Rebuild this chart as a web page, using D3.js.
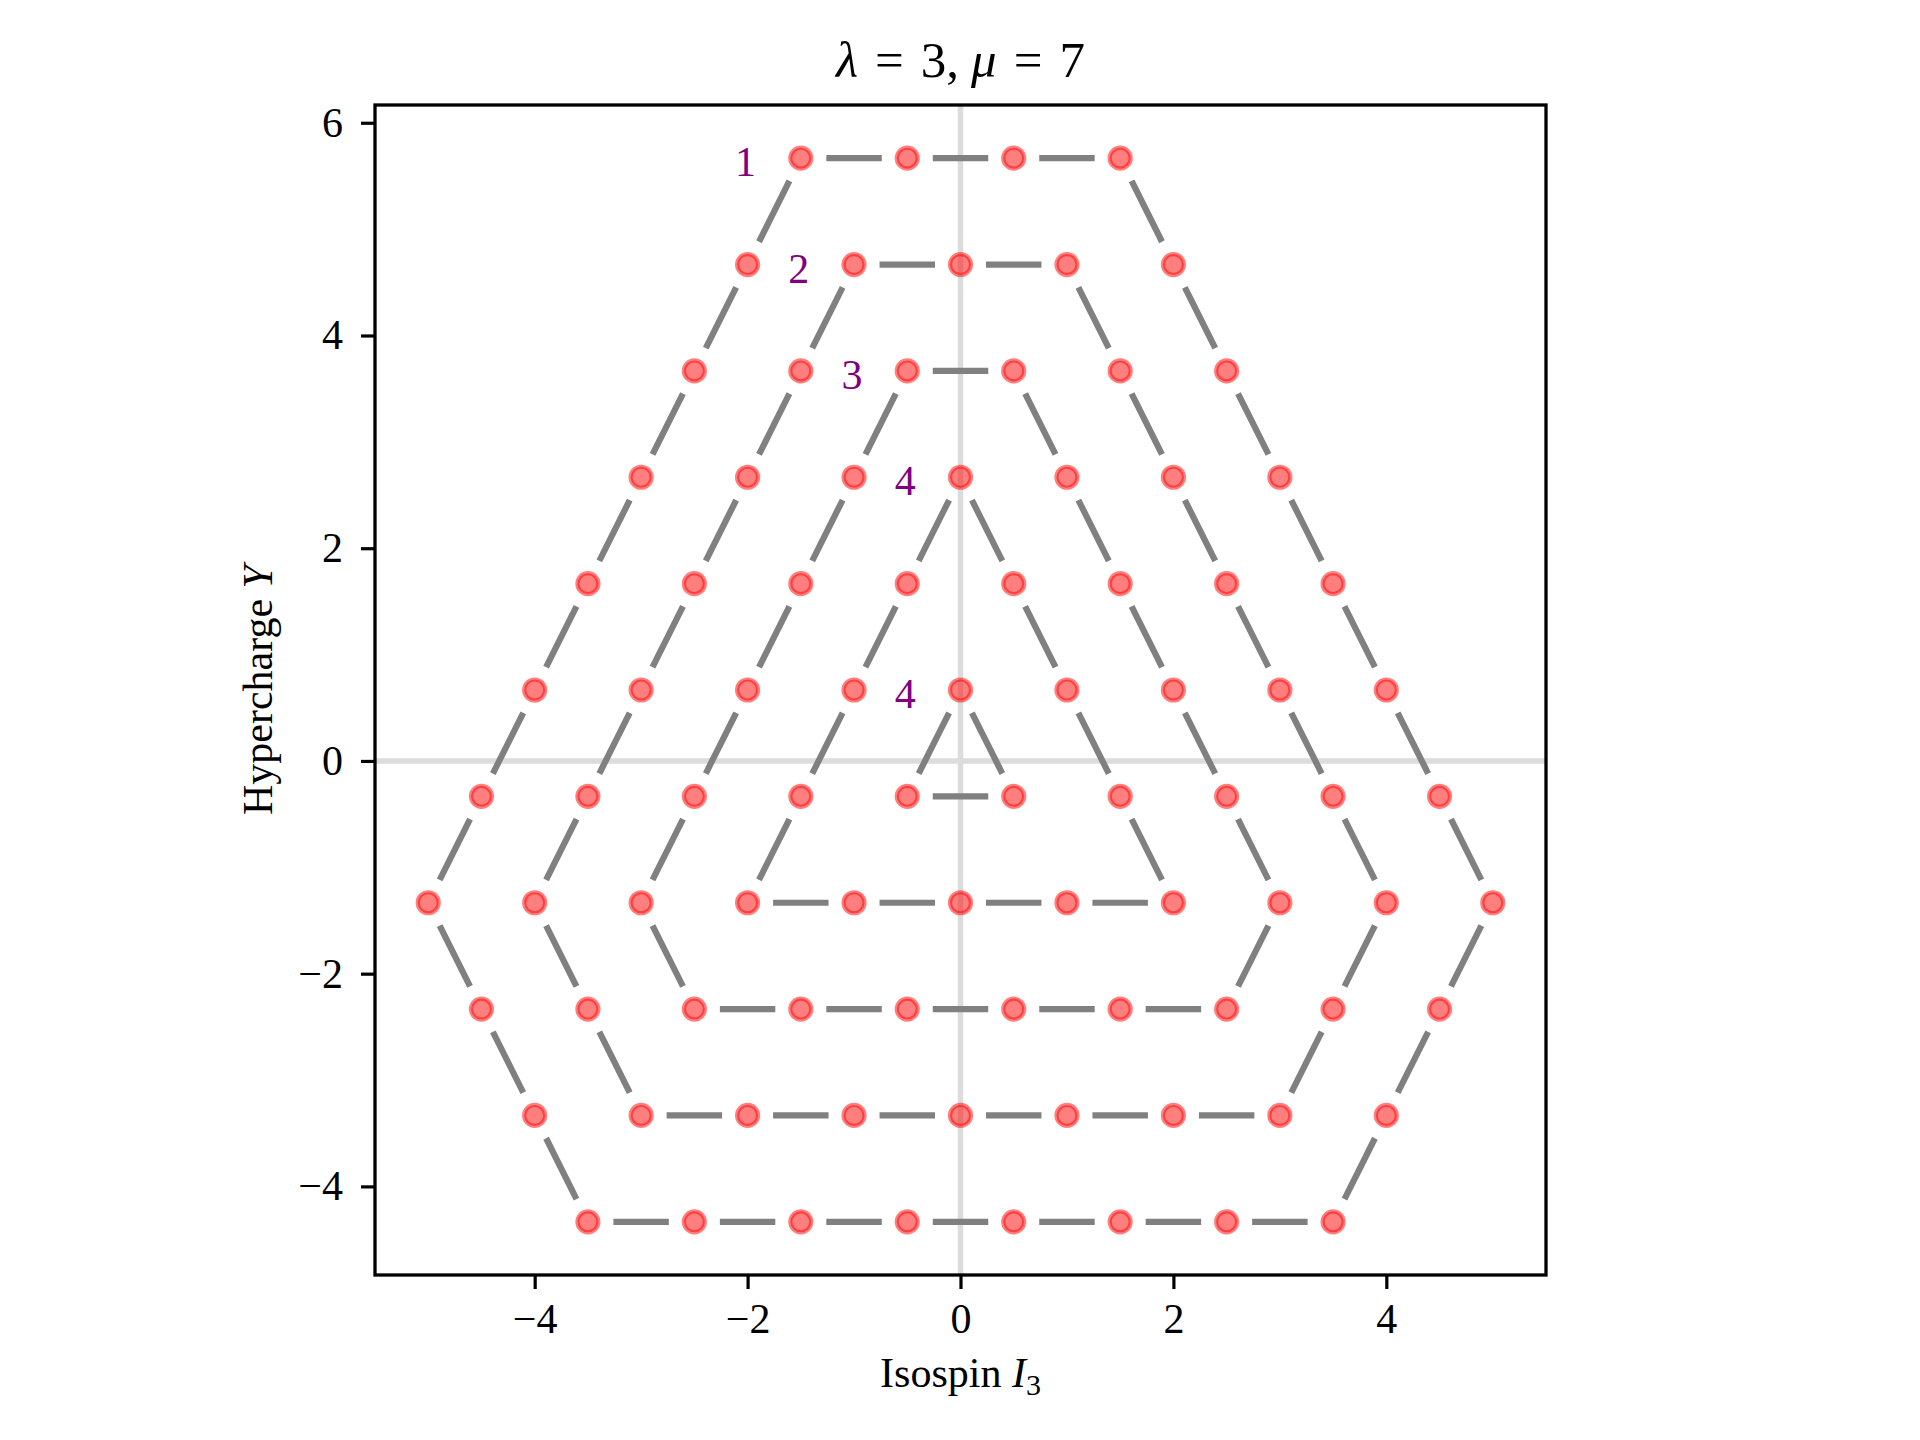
<!DOCTYPE html>
<html>
<head>
<meta charset="utf-8">
<script src="https://cdn.jsdelivr.net/npm/d3@7"></script>
<style>
  html, body { margin: 0; padding: 0; background: #ffffff; }
  svg { display: block; }
  text { font-family: "Liberation Serif", "Times New Roman", serif; }
</style>
</head>
<body>
<svg id="chart" width="1920" height="1440"></svg>
<script>
// ---- data: weights (I3, Y) of each shell, listed in order around the shell ----
const shell1 = [
  [-1.5, 5.667], [-0.5, 5.667], [0.5, 5.667], [1.5, 5.667],
  [2, 4.667], [2.5, 3.667], [3, 2.667], [3.5, 1.667], [4, 0.667], [4.5, -0.333], [5, -1.333],
  [4.5, -2.333], [4, -3.333], [3.5, -4.333],
  [2.5, -4.333], [1.5, -4.333], [0.5, -4.333], [-0.5, -4.333], [-1.5, -4.333], [-2.5, -4.333], [-3.5, -4.333],
  [-4, -3.333], [-4.5, -2.333], [-5, -1.333],
  [-4.5, -0.333], [-4, 0.667], [-3.5, 1.667], [-3, 2.667], [-2.5, 3.667], [-2, 4.667]
];
const shell2 = [
  [-1, 4.667], [0, 4.667], [1, 4.667],
  [1.5, 3.667], [2, 2.667], [2.5, 1.667], [3, 0.667], [3.5, -0.333], [4, -1.333],
  [3.5, -2.333], [3, -3.333],
  [2, -3.333], [1, -3.333], [0, -3.333], [-1, -3.333], [-2, -3.333], [-3, -3.333],
  [-3.5, -2.333], [-4, -1.333],
  [-3.5, -0.333], [-3, 0.667], [-2.5, 1.667], [-2, 2.667], [-1.5, 3.667]
];
const shell3 = [
  [-0.5, 3.667], [0.5, 3.667],
  [1, 2.667], [1.5, 1.667], [2, 0.667], [2.5, -0.333], [3, -1.333],
  [2.5, -2.333],
  [1.5, -2.333], [0.5, -2.333], [-0.5, -2.333], [-1.5, -2.333], [-2.5, -2.333],
  [-3, -1.333],
  [-2.5, -0.333], [-2, 0.667], [-1.5, 1.667], [-1, 2.667]
];
const shell4 = [
  [0, 2.667],
  [0.5, 1.667], [1, 0.667], [1.5, -0.333], [2, -1.333],
  [1, -1.333], [0, -1.333], [-1, -1.333], [-2, -1.333],
  [-1.5, -0.333], [-1, 0.667], [-0.5, 1.667]
];
const shell5 = [
  [0, 0.667], [0.5, -0.333], [-0.5, -0.333]
];
const shells = [shell1, shell2, shell3, shell4, shell5];
const multiplicities = ["1", "2", "3", "4", "4"];
const xTicks = [-4, -2, 0, 2, 4];
const yTicks = [-4, -2, 0, 2, 4, 6];
const xDomain = [-5.5, 5.5];
const yDomain = [-4.833, 6.167];

// ---- layout ----
const L = 375, R = 1546, T = 105, B = 1275;
const svg = d3.select("#chart");
const x = d3.scaleLinear().domain(xDomain).range([L, R]);
const y = d3.scaleLinear().domain(yDomain).range([B, T]);

const plot = svg.append("g");
plot.append("defs").append("clipPath").attr("id", "clip")
  .append("rect").attr("x", L).attr("y", T).attr("width", R - L).attr("height", B - T);
const inner = plot.append("g").attr("clip-path", "url(#clip)");

// zero lines
inner.append("line").attr("x1", L).attr("x2", R).attr("y1", y(0)).attr("y2", y(0))
  .attr("stroke", "#dcdcdc").attr("stroke-width", 5.5);
inner.append("line").attr("x1", x(0)).attr("x2", x(0)).attr("y1", T).attr("y2", B)
  .attr("stroke", "#dcdcdc").attr("stroke-width", 5.5);

// edges (each segment shortened at both ends)
const shrink = 25.5;
const edges = [];
shells.forEach(s => {
  for (let i = 0; i < s.length; i++) {
    if (s.length < 2) continue;
    const a = s[i], b = s[(i + 1) % s.length];
    edges.push([a, b]);
  }
});
inner.selectAll("line.edge").data(edges).join("line")
  .attr("class", "edge")
  .each(function(d) {
    const x1 = x(d[0][0]), y1 = y(d[0][1]), x2 = x(d[1][0]), y2 = y(d[1][1]);
    const len = Math.hypot(x2 - x1, y2 - y1);
    const ux = (x2 - x1) / len, uy = (y2 - y1) / len;
    d3.select(this)
      .attr("x1", x1 + ux * shrink).attr("y1", y1 + uy * shrink)
      .attr("x2", x2 - ux * shrink).attr("y2", y2 - uy * shrink);
  })
  .attr("stroke", "#808080").attr("stroke-width", 6.2).attr("stroke-linecap", "butt");

// markers
const pts = shells.flat();
inner.selectAll("circle.pt").data(pts).join("circle")
  .attr("class", "pt")
  .attr("cx", d => x(d[0])).attr("cy", d => y(d[1]))
  .attr("r", 10.5)
  .attr("fill", "rgba(255,0,0,0.5)")
  .attr("stroke", "rgba(255,0,0,0.5)")
  .attr("stroke-width", 4.2);

// multiplicity labels
inner.selectAll("text.mult").data(shells.map((s, i) => ({p: s[0], m: multiplicities[i]}))).join("text")
  .attr("class", "mult")
  .attr("x", d => x(d.p[0] - 0.52))
  .attr("y", d => y(d.p[1]) + 18)
  .attr("text-anchor", "middle")
  .attr("font-size", 42)
  .attr("fill", "#800080")
  .text(d => d.m);

// axes
const xAxis = d3.axisBottom(x).tickValues(xTicks).tickSize(14).tickPadding(14);
const yAxis = d3.axisLeft(y).tickValues(yTicks).tickSize(14).tickPadding(18);
const gx = svg.append("g").attr("transform", `translate(0,${B})`).call(xAxis);
const gy = svg.append("g").attr("transform", `translate(${L},0)`).call(yAxis);
[gx, gy].forEach(g => {
  g.select(".domain").remove();
  g.selectAll(".tick line").attr("stroke", "#000").attr("stroke-width", 3.2);
  g.selectAll(".tick text").attr("fill", "#000").attr("font-size", 42)
    .attr("font-family", "'Liberation Serif', serif");
});

// frame
svg.append("rect").attr("x", L).attr("y", T).attr("width", R - L).attr("height", B - T)
  .attr("fill", "none").attr("stroke", "#000").attr("stroke-width", 3.3);

// title
const title = svg.append("text").attr("x", (L + R) / 2).attr("y", 77)
  .attr("text-anchor", "middle").attr("font-size", 51).attr("fill", "#000");
title.append("tspan").attr("font-style", "italic").text("λ");
title.append("tspan").attr("dx", 17).text("=");
title.append("tspan").attr("dx", 17).text("3,");
title.append("tspan").attr("dx", 12).attr("font-style", "italic").text("μ");
title.append("tspan").attr("dx", 17).text("=");
title.append("tspan").attr("dx", 17).text("7");

// x label
const xl = svg.append("text").attr("x", (L + R) / 2).attr("y", 1387)
  .attr("text-anchor", "middle").attr("font-size", 42).attr("fill", "#000");
xl.append("tspan").text("Isospin ");
xl.append("tspan").attr("font-style", "italic").text("I");
xl.append("tspan").attr("font-size", 30).attr("dy", 8).text("3");

// y label
const yl = svg.append("text").attr("transform", `translate(272,${(T + B) / 2}) rotate(-90)`)
  .attr("text-anchor", "middle").attr("font-size", 42).attr("fill", "#000");
yl.append("tspan").text("Hypercharge ");
yl.append("tspan").attr("font-style", "italic").text("Y");
</script>
</body>
</html>
